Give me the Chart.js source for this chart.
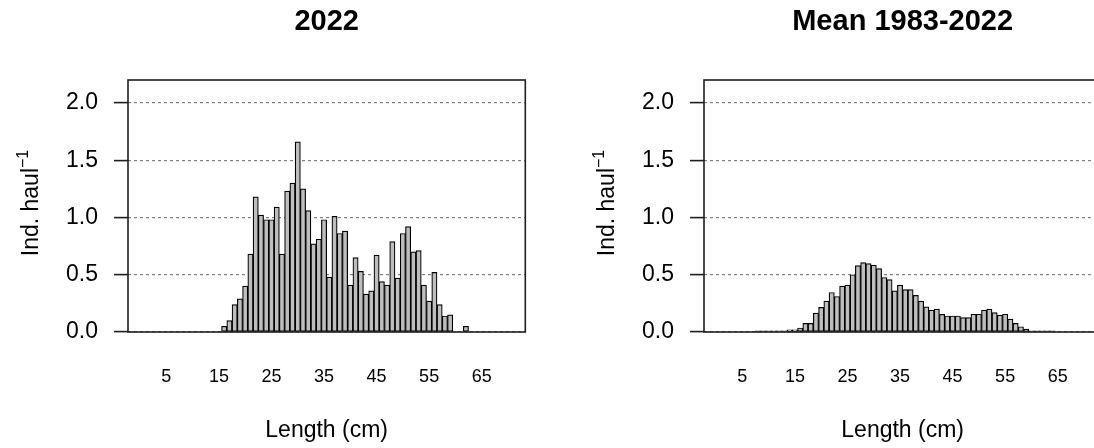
<!DOCTYPE html>
<html>
<head>
<meta charset="utf-8">
<script src="https://cdn.jsdelivr.net/npm/chart.js@4.4.0/dist/chart.umd.min.js"></script>
<style>
  html, body { margin: 0; padding: 0; background: #fff; overflow: hidden; width: 1094px; height: 448px; }
  #wrap { position: relative; width: 1094px; height: 448px; overflow: hidden; }
  canvas { position: absolute; top: 0; }
</style>
</head>
<body>
<div id="wrap">
  <canvas id="panel2022" width="576" height="448" style="left:0px"></canvas>
  <canvas id="panelMean" width="576" height="448" style="left:576px"></canvas>
</div>
<script>
// Length classes (cm), one bar per class
const lengthsCm = [
  1, 2, 3, 4, 5, 6, 7, 8, 9, 10,
  11, 12, 13, 14, 15, 16, 17, 18, 19, 20,
  21, 22, 23, 24, 25, 26, 27, 28, 29, 30,
  31, 32, 33, 34, 35, 36, 37, 38, 39, 40,
  41, 42, 43, 44, 45, 46, 47, 48, 49, 50,
  51, 52, 53, 54, 55, 56, 57, 58, 59, 60,
  61, 62, 63, 64, 65, 66, 67, 68, 69, 70
];

// Individuals per haul, 2022
const perHaul2022 = [
  0, 0, 0, 0, 0, 0, 0, 0, 0, 0,
  0, 0, 0, 0, 0, 0.05, 0.10, 0.24, 0.29, 0.40,
  0.68, 1.18, 1.02, 0.98, 0.98, 1.09, 0.68, 1.23, 1.30, 1.66,
  1.25, 1.06, 0.77, 0.81, 0.98, 0.48, 1.01, 0.86, 0.88, 0.41,
  0.65, 0.53, 0.33, 0.36, 0.67, 0.44, 0.41, 0.79, 0.47, 0.86,
  0.92, 0.70, 0.71, 0.41, 0.27, 0.52, 0.24, 0.14, 0.15, 0,
  0, 0.05, 0, 0, 0, 0, 0, 0, 0, 0
];

// Individuals per haul, mean over 1983-2022
const perHaulMean = [
  0, 0, 0, 0, 0, 0, 0, 0.01, 0.01, 0.01,
  0.01, 0.01, 0.01, 0.02, 0.02, 0.035, 0.075, 0.075, 0.165, 0.215,
  0.27, 0.345, 0.31, 0.40, 0.41, 0.50, 0.58, 0.606, 0.597, 0.583,
  0.554, 0.476, 0.458, 0.36, 0.41, 0.37, 0.37, 0.32, 0.27, 0.22,
  0.19, 0.20, 0.154, 0.14, 0.14, 0.14, 0.125, 0.125, 0.155, 0.155,
  0.19, 0.20, 0.17, 0.148, 0.155, 0.113, 0.075, 0.046, 0.026, 0.01,
  0.01, 0.01, 0.01, 0.01, 0, 0, 0, 0, 0, 0
];

const xTickValues = [5, 15, 25, 35, 45, 55, 65];
const yTickValues = [0, 0.5, 1.0, 1.5, 2.0];

const FONT = '"Liberation Sans", Arial, Helvetica, sans-serif';

// Frame around the plot region, panel title and the y-axis title with superscript
const panelDecor = {
  id: 'panelDecor',
  afterDraw(chart, args, opts) {
    const { ctx, chartArea: a } = chart;
    ctx.save();
    ctx.strokeStyle = '#1f1f1f';
    ctx.lineWidth = 1.6;
    ctx.strokeRect(a.left, a.top, a.right - a.left, a.bottom - a.top);

    ctx.fillStyle = '#000';
    ctx.font = 'bold 29px ' + FONT;
    ctx.textAlign = 'center';
    ctx.textBaseline = 'middle';
    ctx.fillText(opts.title, (a.left + a.right) / 2, 22);

    // "Ind. haul^-1", rotated to read upwards
    const mainTxt = 'Ind. haul';
    const supTxt = '\u22121';
    ctx.font = '23px ' + FONT;
    const wMain = ctx.measureText(mainTxt).width;
    ctx.font = '16px ' + FONT;
    const wSup = ctx.measureText(supTxt).width;
    const total = wMain + wSup;
    ctx.translate(37.7, 203);
    ctx.rotate(-Math.PI / 2);
    ctx.textAlign = 'left';
    ctx.textBaseline = 'alphabetic';
    ctx.font = '23px ' + FONT;
    ctx.fillText(mainTxt, -total / 2, 0);
    ctx.font = '16px ' + FONT;
    ctx.fillText(supTxt, -total / 2 + wMain, -10);
    ctx.restore();
  }
};

function makePanel(canvasId, title, values) {
  return new Chart(document.getElementById(canvasId), {
    type: 'bar',
    data: {
      datasets: [{
        data: lengthsCm.map((x, i) => ({ x: x, y: values[i] })),
        backgroundColor: '#bebebe',
        borderColor: '#000',
        borderWidth: 1.2,
        borderSkipped: false,
        barPercentage: 1,
        categoryPercentage: 1
      }]
    },
    options: {
      responsive: false,
      animation: false,
      devicePixelRatio: 1,
      layout: { padding: { top: 80, left: 0, right: 50.7, bottom: 0 } },
      plugins: {
        legend: { display: false },
        tooltip: { enabled: false },
        panelDecor: { title: title }
      },
      scales: {
        x: {
          type: 'linear',
          min: -2.3,
          max: 73.3,
          offset: false,
          afterBuildTicks: s => { s.ticks = xTickValues.map(v => ({ value: v })); },
          afterFit: s => { s.height = 116; },
          grid: { display: false, drawTicks: false },
          border: { display: false },
          ticks: {
            padding: 34,
            autoSkip: false,
            maxRotation: 0,
            color: '#000',
            font: { family: FONT, size: 18 },
            callback: v => String(v)
          },
          title: {
            display: true,
            text: 'Length (cm)',
            color: '#000',
            font: { family: FONT, size: 23 },
            padding: { top: 0, bottom: 4 }
          }
        },
        y: {
          min: 0,
          max: 2.2,
          z: 1,
          afterBuildTicks: s => { s.ticks = yTickValues.map(v => ({ value: v })); },
          afterFit: s => { s.width = 128; },
          grid: {
            color: '#808080',
            lineWidth: 1.2,
            drawTicks: true,
            tickLength: 14,
            tickColor: '#1f1f1f',
            tickWidth: 1.6
          },
          border: { display: false, dash: [3, 3] },
          ticks: {
            padding: 16,
            color: '#000',
            font: { family: FONT, size: 23 },
            callback: v => Number(v).toFixed(1)
          }
        }
      }
    },
    plugins: [panelDecor]
  });
}

makePanel('panel2022', '2022', perHaul2022);
makePanel('panelMean', 'Mean 1983-2022', perHaulMean);
</script>
</body>
</html>
